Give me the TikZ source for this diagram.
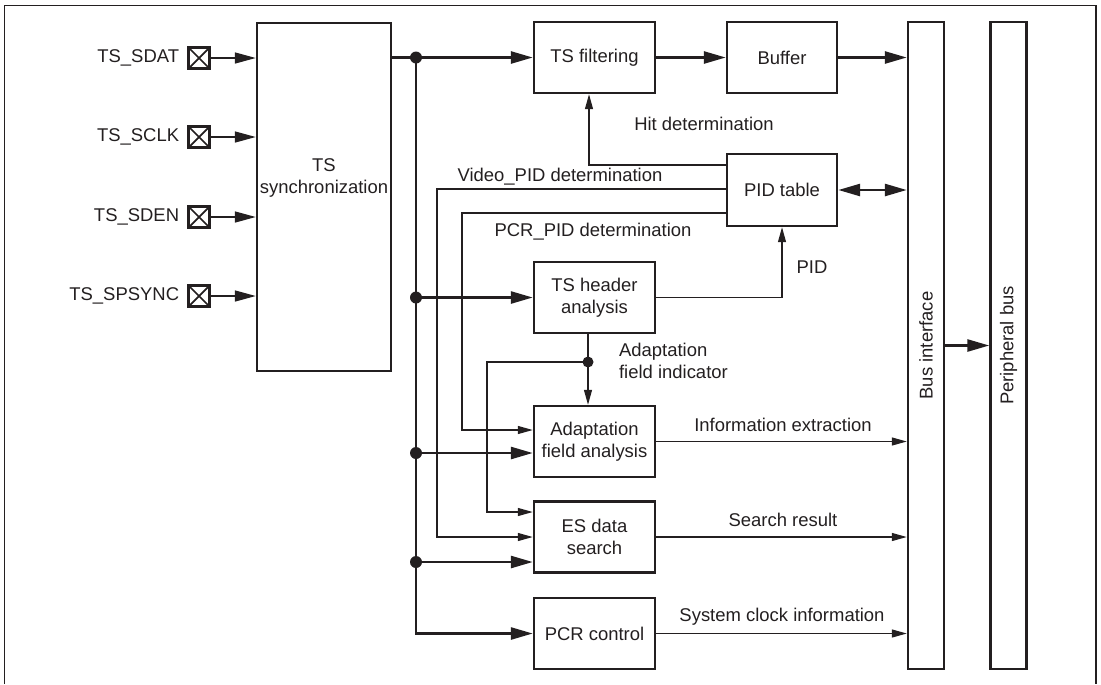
\documentclass[tikz,border=0pt]{standalone}
\usepackage{fontspec}
\setmainfont{Liberation Sans}
\usepackage{tikz}
\usetikzlibrary{arrows.meta,calc,positioning}
\definecolor{InkGray}{RGB}{35,31,32}

\begin{document}
\begin{tikzpicture}[x=0.02cm,y=-0.02cm,color=InkGray,
  font=\fontsize{10.5}{12.3}\selectfont,
  blk/.style={draw,line width=1.4pt,minimum width=2.42cm,minimum height=1.42cm,align=center,inner sep=1pt},
  bar/.style={draw,line width=1.4pt,minimum width=0.72cm,minimum height=12.94cm,inner sep=0pt},
  padbox/.style={draw,line width=1.5pt,minimum size=0.42cm,inner sep=0pt,
    path picture={\draw[line width=1pt] (path picture bounding box.north west) -- (path picture bounding box.south east)
      (path picture bounding box.north east) -- (path picture bounding box.south west);}},
  lbl/.style={inner sep=1pt},
  bus/.style={line width=1.5pt,>={Triangle[length=0.44cm,width=0.24cm]}},
  ctl/.style={line width=0.7pt,>={Triangle[length=0.3cm,width=0.16cm]}},
  padline/.style={line width=0.9pt,>={Triangle[length=0.42cm,width=0.22cm]}}]
\useasboundingbox (0,0) rectangle (1101,684);
\draw[line width=1.1pt] (4.5,684) |- (1096,5.5) -- (1096,684);

% blocks
\node[blk,minimum width=2.68cm,minimum height=6.96cm] (sync) at (324,197) {};
\node[lbl,align=center] (synclbl) at (324,178) {TS\\synchronization};
\node[blk] (filt) at (594.5,57.5) {TS filtering};
\node[blk,minimum width=2.2cm] (buf) at (782,57.5) {Buffer};
\node[blk,minimum width=2.2cm,minimum height=1.44cm] (pid) at (782,190) {PID table};
\node[blk] (hdr) at (594.5,297.5) {TS header\\analysis};
\node[blk] (afa) at (594.5,441.5) {Adaptation\\field analysis};
\node[blk] (es) at (594.5,537) {ES data\\search};
\node[blk] (pcr) at (594.5,633.5) {PCR control};
\node[bar] (busif) at (926,345.5) {};
\node[lbl,rotate=90] (busiflbl) at (busif) {Bus interface};
\node[bar] (perbus) at (1008.5,345.5) {};
\node[lbl,rotate=90] (perbuslbl) at (perbus) {Peripheral bus};

% input pads
\node[padbox] (padsdat) at (199,58) {};
\node[lbl,left=0.12cm of padsdat] (lsdat) {TS\_SDAT};
\node[padbox] (padsclk) at (199,137) {};
\node[lbl,left=0.12cm of padsclk] (lsclk) {TS\_SCLK};
\node[padbox] (padsden) at (199,217) {};
\node[lbl,left=0.12cm of padsden] (lsden) {TS\_SDEN};
\node[padbox] (padsync) at (199,296) {};
\node[lbl,left=0.12cm of padsync] (lsync) {TS\_SPSYNC};
\draw[padline,->] (padsdat.east) -- (padsdat.east -| sync.west);
\draw[padline,->] (padsclk.east) -- (padsclk.east -| sync.west);
\draw[padline,->] (padsden.east) -- (padsden.east -| sync.west);
\draw[padline,->] (padsync.east) -- (padsync.east -| sync.west);

% data path
\coordinate (j0) at (416,57.5);
\coordinate (j1) at (416,453);
\coordinate (j2) at (416,562);
\draw[bus,->] (sync.east |- filt) -- (filt);
\draw[bus,->] (j0) |- (pcr);
\draw[bus,->] (j0 |- hdr) -- (hdr);
\draw[bus,->] (j1) -- (j1 -| afa.west);
\draw[bus,->] (j2) -- (j2 -| es.west);
\fill (j0) circle (0.12cm) (j0 |- hdr) circle (0.12cm) (j1) circle (0.12cm) (j2) circle (0.12cm);
\draw[bus,->] (filt) -- (buf);
\draw[bus,->] (buf.east) -- (buf.east -| busif.west);
\draw[bus,<->] (pid.east) -- (pid.east -| busif.west);
\draw[bus,->] (busif) -- (perbus);

% control lines
\coordinate (hittap) at (589,165);
\coordinate (vidtap) at (437,189);
\coordinate (pcrtap) at (462,213);
\coordinate (aftap) at (588,362);
\coordinate (afbend) at (487,362);
\draw[ctl,->] (hittap -| pid.west) -- (hittap) -- (hittap |- filt.south);
\draw[ctl,->] (vidtap -| pid.west) -- (vidtap) |- (es.west);
\draw[ctl,->] (pcrtap -| pid.west) -- (pcrtap) |- ($(afa.west)+(0,-11.5)$);
\draw[ctl,->] (hdr.east) -| (pid.south);
\draw[ctl,->] (aftap |- hdr.south) -- (aftap |- afa.north);
\draw[ctl,->] (aftap) -- (afbend) |- ($(es.west)+(0,-25)$);
\fill (aftap) circle (0.11cm);
\draw[ctl,->] (afa.east) -- (afa.east -| busif.west);
\draw[ctl,->] (es.east) -- (es.east -| busif.west);
\draw[ctl,->] (pcr.east) -- (pcr.east -| busif.west);

% line labels
\node[lbl] (hitlbl) at (704,124) {Hit determination};
\node[lbl] (vidlbl) at (560,177) {Video\_PID determination};
\node[lbl] (pcrlbl) at (593,232) {PCR\_PID determination};
\node[lbl] (pidlbl) at (812,267) {PID};
\node[lbl,align=left,anchor=west] (aflbl) at (617,361) {Adaptation\\field indicator};
\node[lbl] (infolbl) at (783,425) {Information extraction};
\node[lbl] (srchlbl) at (783,520) {Search result};
\node[lbl] (clklbl) at (782,617) {System clock information};
\end{tikzpicture}
\end{document}
